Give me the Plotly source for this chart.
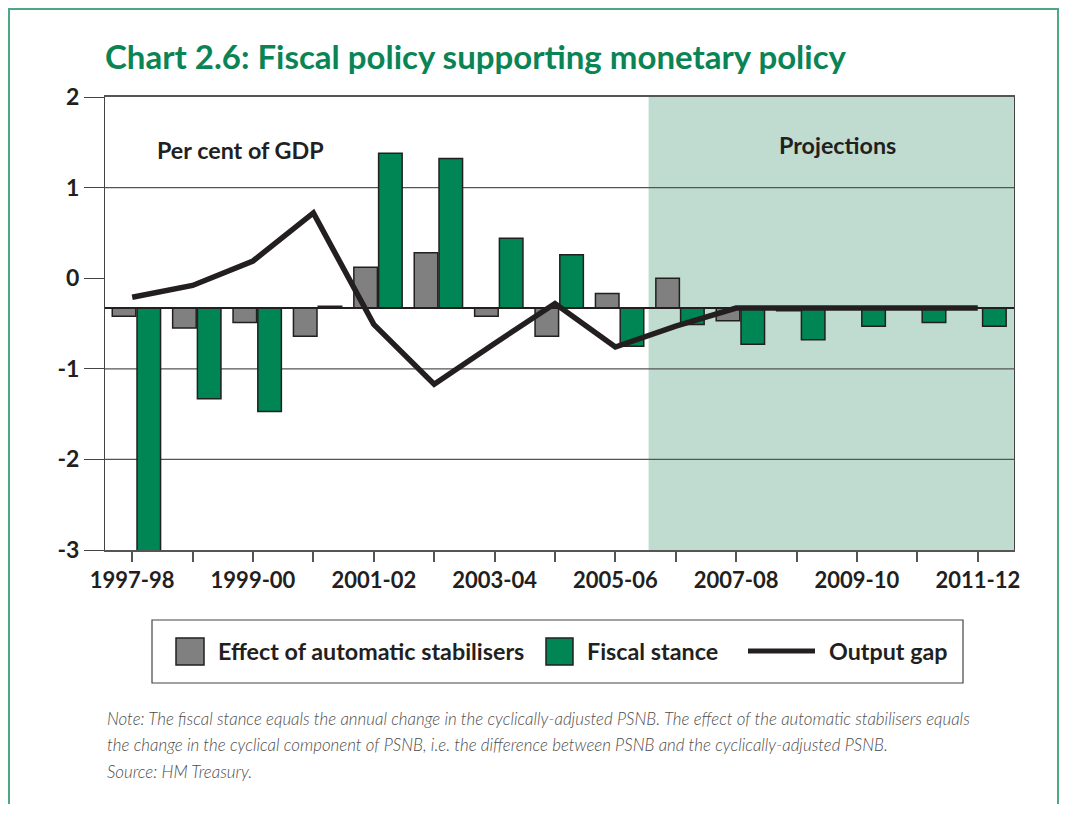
import plotly.graph_objects as go

# data (per cent of GDP)
YEARS = [
    "1997-98", "1998-99", "1999-00", "2000-01", "2001-02", "2002-03", "2003-04", "2004-05",
    "2005-06", "2006-07", "2007-08", "2008-09", "2009-10", "2010-11", "2011-12",
]
TICK_LABELS = [y if i % 2 == 0 else "" for i, y in enumerate(YEARS)]
Y_TICKS = [-3, -2, -1, 0, 1, 2]
STABILISERS = [-0.42, -0.55, -0.49, -0.64, 0.12, 0.28, -0.42, -0.64,
               -0.17, 0.0, -0.47, -0.36, -0.33, -0.33, -0.33]
FISCAL_STANCE = [-3.05, -1.33, -1.47, -0.31, 1.38, 1.32, 0.44, 0.26,
                 -0.75, -0.51, -0.73, -0.68, -0.53, -0.49, -0.53]
OUTPUT_GAP = [-0.21, -0.08, 0.19, 0.72, -0.51, -1.17, -0.72, -0.28,
              -0.76, -0.53, -0.33, -0.33, -0.33, -0.33, -0.33]
BASELINE = -0.33          # bars hang off this line in the original
PROJECTION_START = 8.55   # shaded area starts between 2005-06 and 2006-07
X_RANGE = [-0.45, 14.6]
GRID_LINES = [1, -1, -2]

# colours
GREY = "#808080"
GREEN = "#008555"
TITLE_GREEN = "#0a8454"
FRAME_GREEN = "#4ea883"
SHADE = "#c0dcd1"
INK = "#231f20"

# page coordinates of the plot area (the html body adds an 8px margin all round,
# so the figure is kept small enough not to need scrollbars)
BODY = 8
W, H = 1068 - 2 * BODY, 816 - 2 * BODY - 4
PL, PR, PT, PB = 105, 1014, 97, 550


def px_x(x):
    return (x - PL) / (PR - PL)


def px_y(y):
    return (PB - y) / (PB - PT)


def bold(size, color=INK):
    return dict(family="Lato", size=size, color=color, weight=700)


fig = go.Figure()
fig.add_trace(go.Bar(
    x=YEARS, y=[v - BASELINE for v in STABILISERS], base=BASELINE,
    offset=-0.33, width=0.39, name="Effect of automatic stabilisers",
    marker=dict(color=GREY, line=dict(color=INK, width=1.5)),
))
fig.add_trace(go.Bar(
    x=YEARS, y=[v - BASELINE for v in FISCAL_STANCE], base=BASELINE,
    offset=0.08, width=0.39, name="Fiscal stance",
    marker=dict(color=GREEN, line=dict(color=INK, width=1.5)),
))
fig.add_trace(go.Scatter(
    x=YEARS, y=OUTPUT_GAP, mode="lines", name="Output gap",
    line=dict(color=INK, width=5.5),
))

shapes = [
    # projections shading
    dict(type="rect", xref="x", yref="y", x0=PROJECTION_START, x1=X_RANGE[1], y0=-3, y1=2,
         fillcolor=SHADE, line_width=0, layer="below"),
]
for g in GRID_LINES:
    shapes.append(dict(type="line", xref="x", yref="y", x0=X_RANGE[0], x1=X_RANGE[1], y0=g, y1=g,
                       line=dict(color="#555555", width=1.2), layer="below"))
# the baseline the bars sit on
shapes.append(dict(type="line", xref="paper", yref="y", x0=0, x1=1, y0=BASELINE, y1=BASELINE,
                   line=dict(color=INK, width=2), layer="above"))

# green frame round the panel
shapes.append(dict(
    type="path", xref="paper", yref="paper",
    path=f"M {px_x(9)},{px_y(830)} L {px_x(9)},{px_y(9)} L {px_x(1058)},{px_y(9)} L {px_x(1058)},{px_y(830)}",
    line=dict(color=FRAME_GREEN, width=2),
))

# legend drawn by hand (big square keys)
shapes.append(dict(type="rect", xref="paper", yref="paper",
                   x0=px_x(152), x1=px_x(963), y0=px_y(683), y1=px_y(620),
                   line=dict(color="#444444", width=1.2)))
shapes.append(dict(type="rect", xref="paper", yref="paper",
                   x0=px_x(176), x1=px_x(204), y0=px_y(665), y1=px_y(638),
                   fillcolor=GREY, line=dict(color=INK, width=1.5)))
shapes.append(dict(type="rect", xref="paper", yref="paper",
                   x0=px_x(546), x1=px_x(573), y0=px_y(665), y1=px_y(638),
                   fillcolor=GREEN, line=dict(color=INK, width=1.5)))
shapes.append(dict(type="line", xref="paper", yref="paper",
                   x0=px_x(748), x1=px_x(815), y0=px_y(651), y1=px_y(651),
                   line=dict(color=INK, width=5)))

annotations = [
    dict(text="Per cent of GDP", x=px_x(240), y=px_y(150), font=bold(23.3)),
    dict(text="Projections", x=px_x(837), y=px_y(145), font=bold(23.3)),
    dict(text="Effect of automatic stabilisers", x=px_x(216), y=px_y(651),
         xanchor="left", font=bold(23.3)),
    dict(text="Fiscal stance", x=px_x(585), y=px_y(651), xanchor="left", font=bold(23.3)),
    dict(text="Output gap", x=px_x(827), y=px_y(651), xanchor="left", font=bold(23.3)),
]
notes = [
    ("Note: The fiscal stance equals the annual change in the cyclically-adjusted PSNB. "
     "The effect of the automatic stabilisers equals", 718),
    ("the change in the cyclical component of PSNB, i.e. the difference between PSNB "
     "and the cyclically-adjusted PSNB.", 744),
    ("Source: HM Treasury.", 771),
]
for txt, ypx in notes:
    annotations.append(dict(text=f"<i>{txt}</i>", x=px_x(105), y=px_y(ypx), xanchor="left",
                            font=dict(family="Lato", size=16.9, color="#4d4d4d", weight=300)))
for a in annotations:
    a.update(xref="paper", yref="paper", showarrow=False, yanchor="middle")
    a.setdefault("xanchor", "center")

fig.update_layout(
    width=W, height=H,
    margin=dict(l=PL - BODY, r=W - (PR - BODY), t=PT - BODY, b=H - (PB - BODY)),
    paper_bgcolor="white", plot_bgcolor="white",
    barmode="overlay", showlegend=False,
    title=dict(text="Chart 2.6: Fiscal policy supporting monetary policy",
               x=(PL - BODY) / W, xanchor="left", y=1 - (57 - BODY) / H, yanchor="middle",
               font=bold(33, TITLE_GREEN)),
    shapes=shapes, annotations=annotations,
)
fig.update_xaxes(
    type="category", range=X_RANGE, tickmode="array", tickvals=YEARS, ticktext=TICK_LABELS,
    ticks="outside", ticklen=10, tickwidth=1.5, tickcolor="#555555",
    showgrid=False, showline=True, mirror=True, linecolor="#555555", linewidth=1.5,
    tickfont=bold(22), tickangle=0,
)
fig.update_yaxes(
    range=[-3, 2], tickmode="array", tickvals=Y_TICKS, ticktext=[str(v) for v in Y_TICKS],
    ticks="outside", ticklen=20,
    tickwidth=1.2, tickcolor="#444444", showgrid=False, zeroline=False,
    showline=True, mirror=True, linecolor="#444444", linewidth=1.2,
    tickfont=bold(23),
)

fig.write_html("out.html")
